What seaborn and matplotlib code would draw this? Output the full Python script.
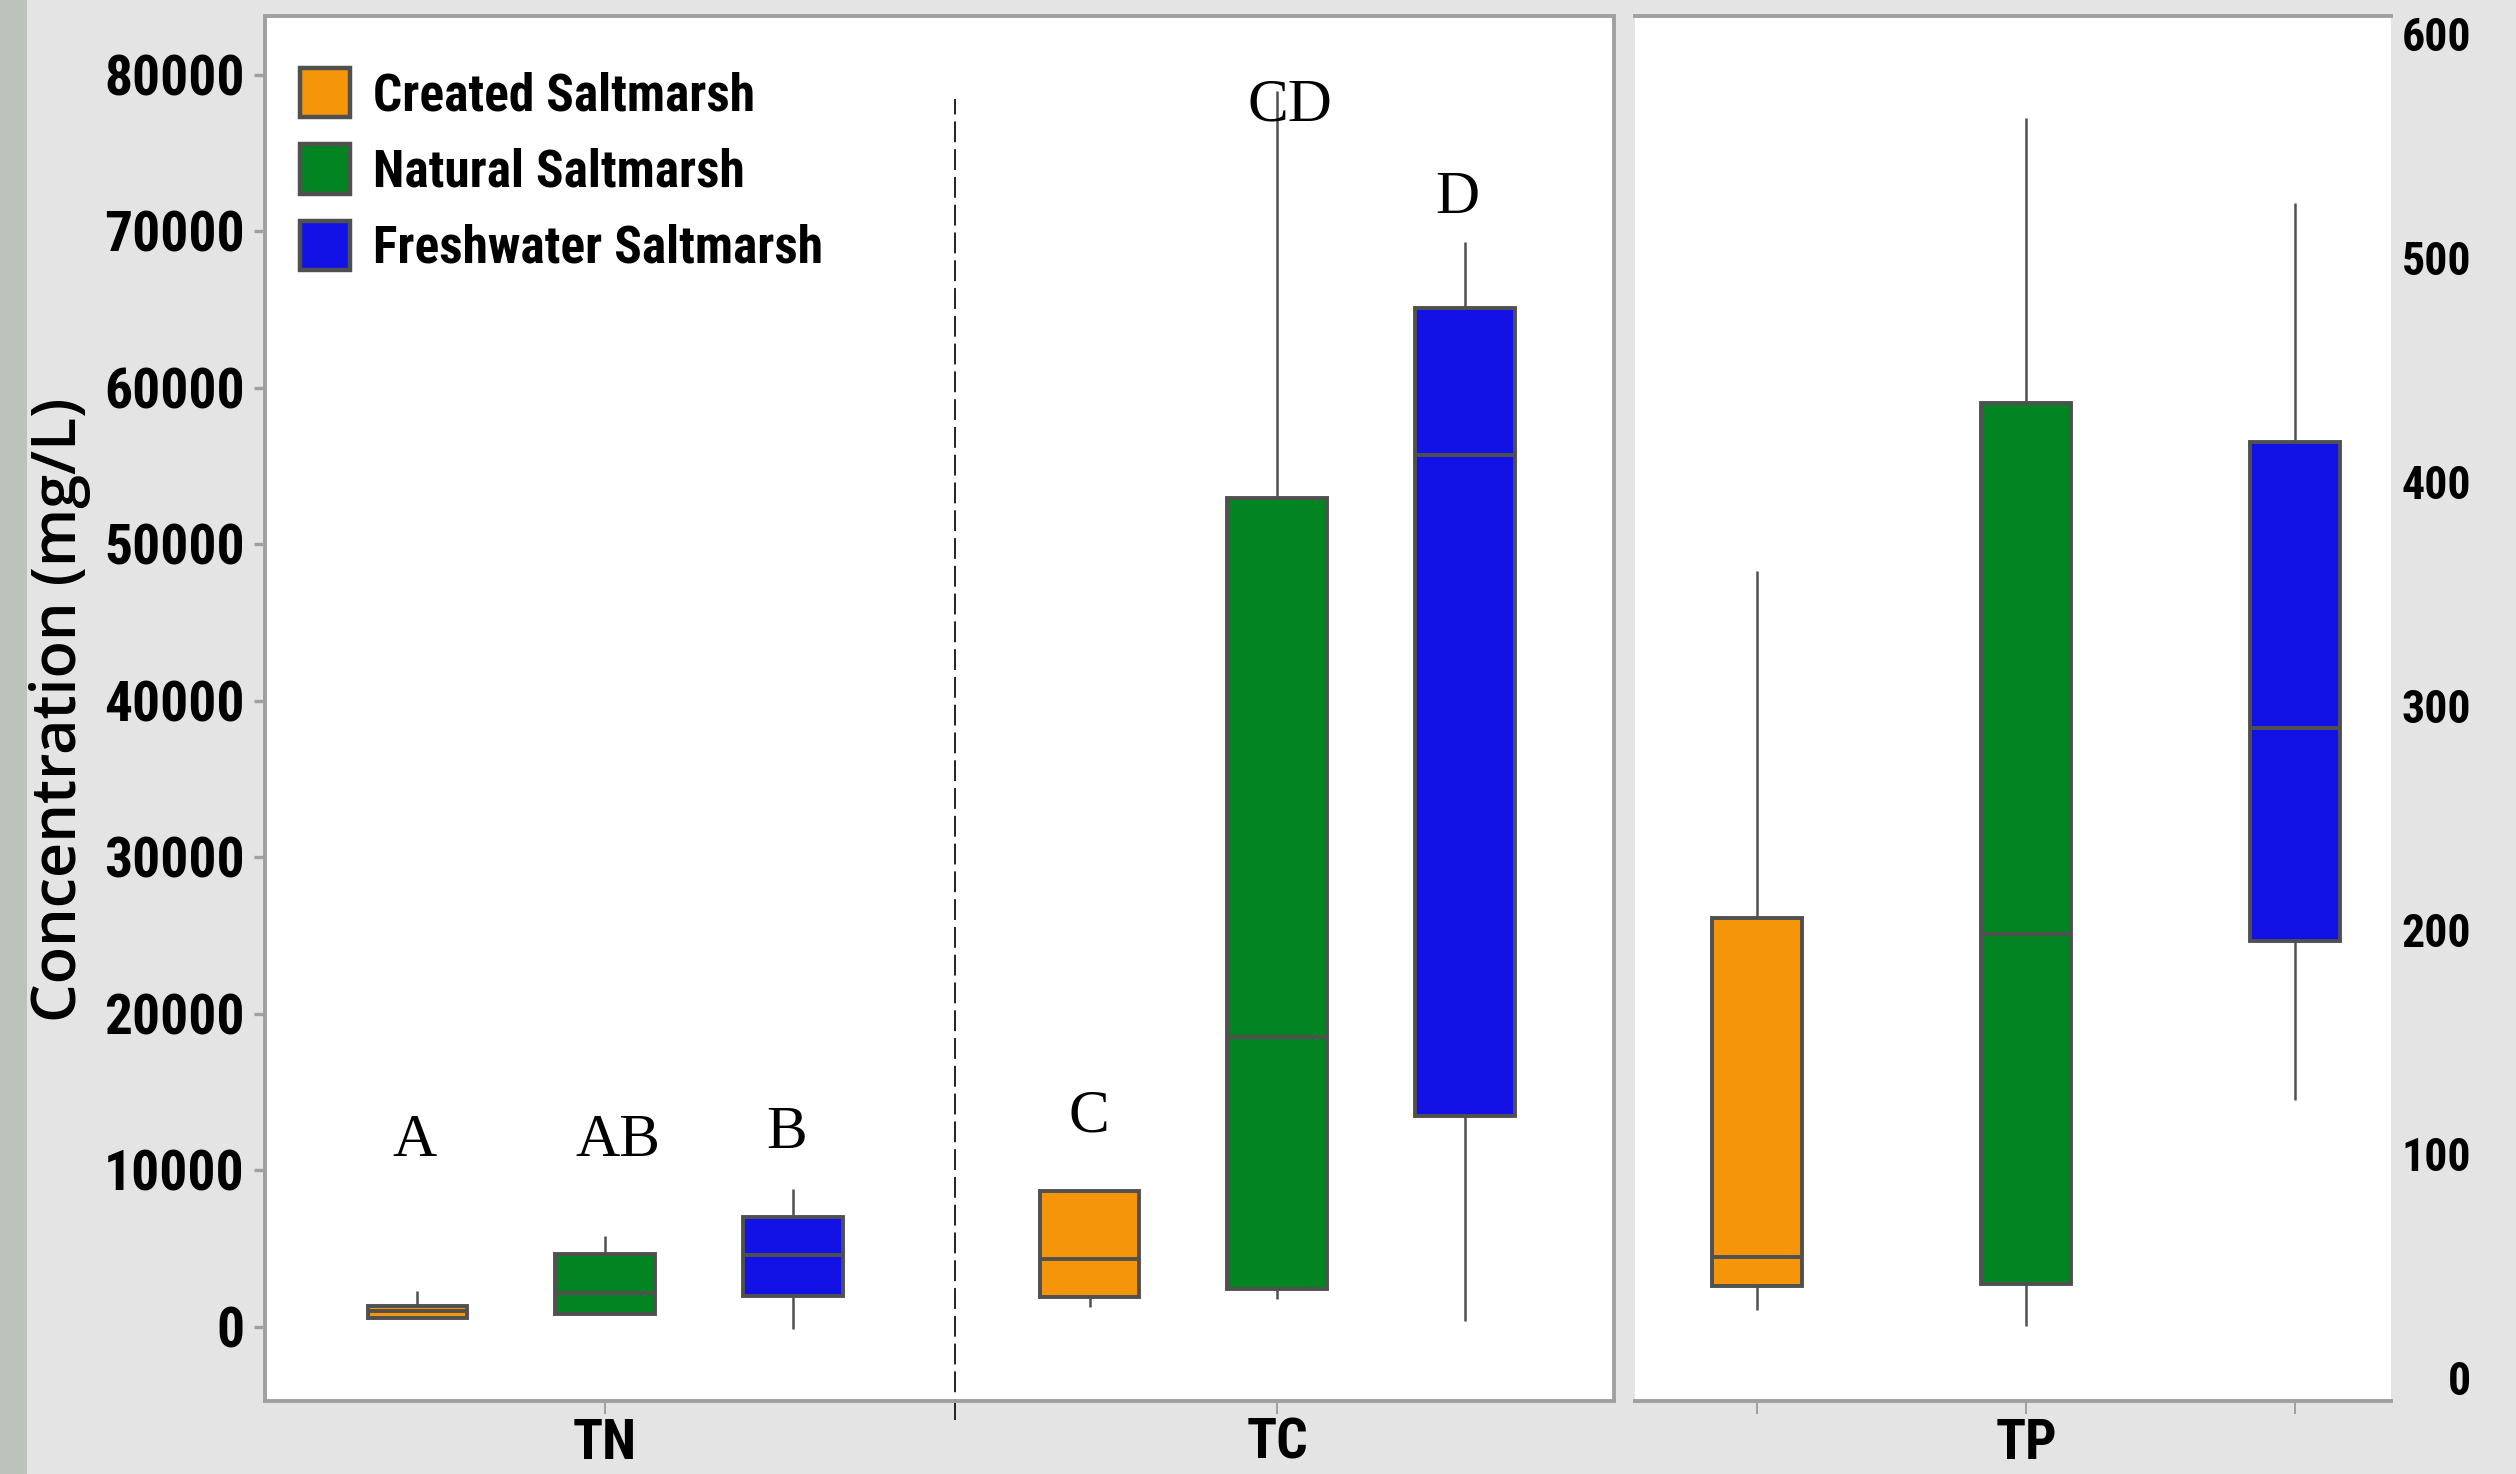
import os
import numpy as np
import pandas as pd
import matplotlib
matplotlib.use("Agg")
import matplotlib.pyplot as plt
from matplotlib import font_manager as fm
from matplotlib.patches import Patch, Rectangle
import seaborn as sns

# ---------------- data ----------------
sites = ["Created Saltmarsh", "Natural Saltmarsh", "Freshwater Saltmarsh"]
colors = ["#f5960a", "#038422", "#1212e6"]

# five-number summaries: [min, q1, median, q3, max]  (mg/L)
tn_created = [590, 590, 1050, 1360, 2300]
tn_natural = [840, 840, 2200, 4650, 5800]
tn_fresh = [-100, 1950, 4600, 7000, 8800]
tc_created = [1250, 1930, 4350, 8700, 8700]
tc_natural = [1800, 2450, 18500, 53000, 79000]
tc_fresh = [380, 13450, 55700, 65100, 69300]
tp_created = [30.5, 40.8, 54, 205, 360]
tp_natural = [23, 42, 198, 435, 562]
tp_fresh = [124, 195, 290, 417.5, 524]

left_groups = ["TN", "TC"]
right_groups = ["TP"]
left_ticks = [0, 10000, 20000, 30000, 40000, 50000, 60000, 70000, 80000]
right_ticks = [0, 100, 200, 300, 400, 500, 600]
letters = ["A", "AB", "B", "C", "CD", "D"]
ylabel = "Concentration (mg/L)"

def frame(groups, table):
    rows = []
    for g, per_site in zip(groups, table):
        for s, vals in zip(sites, per_site):
            for v in vals:
                rows.append({"group": g, "site": s, "value": v})
    return pd.DataFrame(rows)

df_left = frame(left_groups, [[tn_created, tn_natural, tn_fresh],
                              [tc_created, tc_natural, tc_fresh]])
df_right = frame(right_groups, [[tp_created, tp_natural, tp_fresh]])

# ---------------- fonts ----------------
def pick_condensed():
    tries = [dict(family="Liberation Sans Narrow"),
             dict(family="Roboto Condensed"),
             dict(family="Noto Sans", stretch="condensed"),
             dict(family="Open Sans", stretch="condensed"),
             dict(family="DejaVu Sans", stretch="condensed"),
             dict(family="Noto Sans Condensed")]
    for t in tries:
        try:
            p = fm.findfont(fm.FontProperties(**t), fallback_to_default=False)
            n = os.path.basename(p).lower()
            if "narrow" in n or "cond" in n:
                return t, True
        except Exception:
            pass
    return dict(family="Liberation Sans"), False

cond, is_cond = pick_condensed()
k = 1.0 if is_cond else 0.75
def cfont(size, weight="bold"):
    d = dict(cond)
    d["size"] = size * k
    d["weight"] = weight
    return fm.FontProperties(**d)

# ---------------- figure ----------------
sns.set_style("white")
plt.rcParams["lines.scale_dashes"] = False
plt.rcParams["text.color"] = "black"
plt.rcParams["xtick.labelcolor"] = "black"
plt.rcParams["ytick.labelcolor"] = "black"
W, H = 2516, 1474
fig = plt.figure(figsize=(W / 100, H / 100), dpi=100, facecolor="#e4e4e4")
fig.patches.append(Rectangle((0, 0), 27 / W, 1, transform=fig.transFigure,
                             facecolor="#bcc3bc", edgecolor="none", zorder=0))

ax1 = fig.add_axes([265 / W, 1 - 1401 / H, (1614 - 265) / W, (1401 - 16) / H])
ax2 = fig.add_axes([1635 / W, 1 - 1401 / H, (2391 - 1635) / W, (1401 - 16) / H])

edge = "#505050"
common = dict(x="group", y="value", hue="site", hue_order=sites, palette=colors,
              saturation=1, whis=(0, 100), showcaps=False, showfliers=False,
              linecolor=edge, linewidth=2.8, legend=False,
              whiskerprops=dict(linewidth=1.8))

sns.boxplot(data=df_left, order=left_groups, width=0.838, gap=0.47, ax=ax1, **common)
sns.boxplot(data=df_right, order=right_groups, width=0.8, gap=0.666, ax=ax2, **common)

# ---- left panel ----
ax1.set_xlim(-0.506, 1.501)
ax1.set_ylim(-4730, 83770)
ax1.set_yticks(left_ticks)
ax1.set_yticklabels([str(t) for t in left_ticks])
ax1.set_xticks([0, 1])
ax1.set_xticklabels(left_groups)
ax1.set_xlabel("")
ax1.set_ylabel("")
ax1.tick_params(axis="y", length=8, width=2.4, color="#a0a0a0", pad=6.5, left=True,
                labelcolor="black")
ax1.tick_params(axis="x", length=9, width=1.4, color="#a0a0a0", pad=3, bottom=True,
                labelcolor="black")
for lab in ax1.get_yticklabels():
    lab.set_fontproperties(cfont(40))
for lab in ax1.get_xticklabels():
    lab.set_fontproperties(cfont(40))
for s in ax1.spines.values():
    s.set_visible(True)
    s.set_color("#a0a0a0")
    s.set_linewidth(2.8)

ax1.axvline(0.52, ymin=-0.014, ymax=0.94, clip_on=False, color="#222222",
            lw=1.4, linestyle=(0, (15, 5)))

# significance letters
letter_pos = [(-0.284, 10930), (0.019, 10930), (0.270, 11440),
              (0.719, 12460), (1.019, 77080), (1.268, 71180)]
for t, (x, y) in zip(letters, letter_pos):
    ax1.text(x, y, t, ha="center", va="baseline", fontsize=44,
             family="Liberation Serif", color="black", zorder=5)

# legend
handles = [Patch(facecolor=c, edgecolor=edge, linewidth=3.2) for c in colors]
leg = fig.legend(handles, sites, loc="upper left",
                 bbox_to_anchor=(300 / W, 1 - 68 / H), frameon=False,
                 prop=cfont(37), handlelength=0.98, handleheight=1.1,
                 handletextpad=0.45, labelspacing=0.45, borderpad=0, borderaxespad=0)
for t in leg.get_texts():
    t.set_color("black")

# ---- right panel ----
ax2.set_xlim(-0.3875, 0.3617)
ax2.set_ylim(-10.3, 607.6)
ax2.yaxis.tick_right()
ax2.set_yticks(right_ticks)
ax2.set_yticklabels([str(t) for t in right_ticks])
ax2.tick_params(axis="y", length=0, pad=57.6, right=True, left=False, labelcolor="black")
for lab in ax2.get_yticklabels():
    lab.set_fontproperties(cfont(33))
    lab.set_horizontalalignment("right")
ax2.set_xticks([-0.8 / 3, 0, 0.8 / 3])
ax2.set_xticklabels(["", "TP", ""])
ax2.tick_params(axis="x", length=9, width=1.4, color="#a0a0a0", pad=3, bottom=True,
                labelcolor="black")
for lab in ax2.get_xticklabels():
    lab.set_fontproperties(cfont(40))
ax2.set_xlabel("")
ax2.set_ylabel("")
for name, s in ax2.spines.items():
    if name in ("top", "bottom"):
        s.set_visible(True)
        s.set_color("#a0a0a0")
        s.set_linewidth(2.8)
    else:
        s.set_visible(False)

fig.text(60 / W, 1 - 710 / H, ylabel, rotation=90, ha="center", va="center",
         fontsize=44, family="Open Sans", weight="semibold", color="black")

fig.savefig("out.png", dpi=100, facecolor=fig.get_facecolor())
